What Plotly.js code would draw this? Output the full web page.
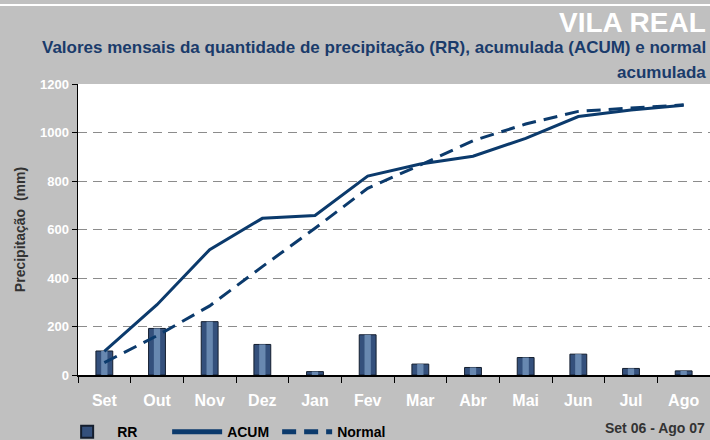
<!DOCTYPE html>
<html><head><meta charset="utf-8">
<script src="https://cdn.plot.ly/plotly-3.0.1.min.js"></script>
<style>html,body{margin:0;padding:0;background:#c0c0c0;}#chart{width:710px;height:440px;}</style>
</head><body><div id="chart"></div>
<script>
const months = ["Set","Out","Nov","Dez","Jan","Fev","Mar","Abr","Mai","Jun","Jul","Ago"];
const rr     = [99, 192, 220, 126, 14, 166, 45, 31, 72, 86, 27, 17];
const acum   = [97, 290, 517, 646, 658, 820, 870, 902, 976, 1066, 1093, 1112];
const normal = [51, 162, 285, 447, 605, 770, 866, 966, 1035, 1087, 1101, 1114];
const yTicks = [0, 200, 400, 600, 800, 1000, 1200];

const lineColor = "#0b3a6c";
const sans = "Liberation Sans, Arial, sans-serif";

const traces = [
  {type:"bar", x:months, y:rr, name:"RR", width:0.32,
   marker:{color:"#34507c", line:{color:"#141e2e", width:1}}},
  {type:"bar", x:months, y:rr, name:"RR-light", width:0.12, showlegend:false, hoverinfo:"skip",
   marker:{color:"#6888b0", line:{width:0}}},
  {type:"scatter", mode:"lines", x:months, y:acum, name:"ACUM",
   line:{color:lineColor, width:3}},
  {type:"scatter", mode:"lines", x:months, y:normal, name:"Normal",
   line:{color:lineColor, width:3, dash:"14px,8px"}}
];

const layout = {
  width:710, height:440,
  paper_bgcolor:"#c0c0c0", plot_bgcolor:"#ffffff",
  margin:{l:78, r:0, t:84, b:65, autoexpand:false},
  barmode:"overlay",
  showlegend:true,
  legend:{orientation:"h", x:-0.033, xanchor:"left", y:-0.196, yanchor:"middle",
          bgcolor:"rgba(0,0,0,0)", font:{family:sans, size:14, color:"#000", weight:"bold"},
          itemwidth:50, entrywidth:45, entrywidthmode:"pixels", traceorder:"normal", itemsizing:"constant"},
  xaxis:{type:"category", tickson:"boundaries", ticks:"outside", ticklen:6, tickcolor:"#000",
         showline:true, linecolor:"#000", linewidth:1.5,
         tickfont:{family:sans, size:16, color:"#ffffff", weight:"bold"},
         ticklabelstandoff:10, showgrid:false, fixedrange:true},
  yaxis:{range:[0,1200], tickvals:yTicks, ticktext:yTicks.map(String), ticks:"outside", ticklen:5, tickcolor:"#000",
         showline:true, linecolor:"#000", linewidth:1.5,
         showgrid:true, gridcolor:"#8c8c8c", griddash:"9px,6px", gridwidth:1,
         zeroline:false,
         tickfont:{family:sans, size:13, color:"#ffffff", weight:"bold"},
         title:{text:"Precipitação  (mm)", standoff:11, font:{family:sans, size:14, color:"#333333", weight:"bold"}}},
  shapes:[
    {type:"line", xref:"paper", yref:"paper", x0:-0.13, x1:1.01, y0:1.2715, y1:1.2715,
     line:{color:"#ffffff", width:2}}
  ],
  annotations:[
    {xref:"paper", yref:"paper", x:1, y:1.213, xanchor:"right", yanchor:"middle", xshift:-2, showarrow:false,
     text:"<b>VILA REAL</b>", font:{family:sans, size:28, color:"#ffffff"}},
    {xref:"paper", yref:"paper", x:1, y:1.127, xanchor:"right", yanchor:"middle", xshift:-2, showarrow:false,
     text:"<b>Valores mensais da quantidade de precipitação (RR), acumulada (ACUM) e normal</b>",
     font:{family:sans, size:17, color:"#1a3b6b"}},
    {xref:"paper", yref:"paper", x:1, y:1.041, xanchor:"right", yanchor:"middle", xshift:-2, showarrow:false,
     text:"<b>acumulada</b>", font:{family:sans, size:17, color:"#1a3b6b"}},
    {xref:"paper", yref:"paper", x:1, y:-0.182, xanchor:"right", yanchor:"middle", xshift:-3, showarrow:false,
     text:"<b>Set 06 - Ago 07</b>", font:{family:sans, size:14, color:"#333333"}}
  ]
};

Plotly.newPlot("chart", traces, layout, {displayModeBar:false, staticPlot:true});
</script></body></html>
